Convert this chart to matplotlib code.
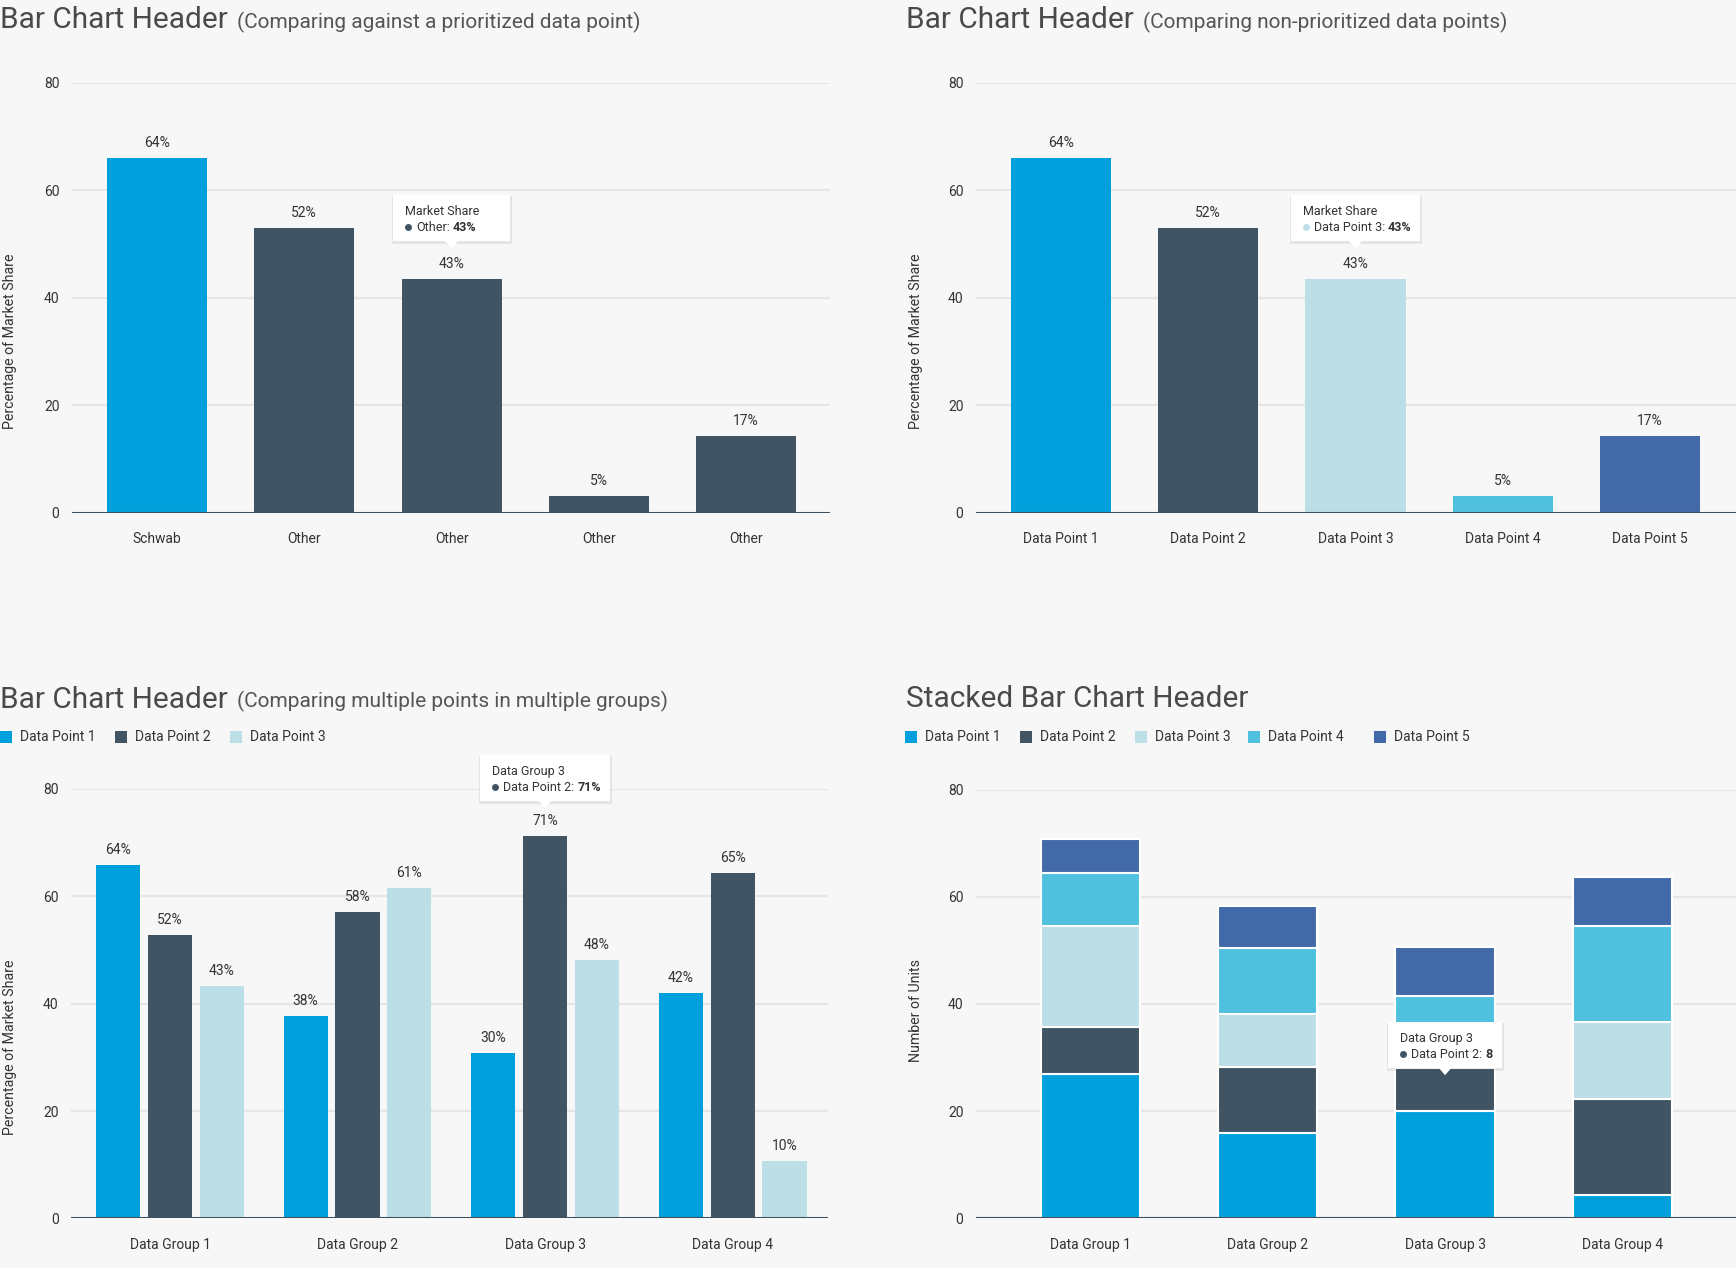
import matplotlib
matplotlib.use("Agg")
import matplotlib.pyplot as plt
from matplotlib.patches import Rectangle, Polygon
from matplotlib.lines import Line2D
import numpy as np

# ---------------- data ----------------
c1_categories = ["Schwab", "Other", "Other", "Other", "Other"]
c1_values = [66.0, 53.0, 43.4, 3.1, 14.3]
c1_labels = ["64%", "52%", "43%", "5%", "17%"]

c2_categories = ["Data Point 1", "Data Point 2", "Data Point 3", "Data Point 4", "Data Point 5"]
c2_values = [66.0, 53.0, 43.4, 3.1, 14.3]
c2_labels = ["64%", "52%", "43%", "5%", "17%"]

c3_groups = ["Data Group 1", "Data Group 2", "Data Group 3", "Data Group 4"]
c3_series = ["Data Point 1", "Data Point 2", "Data Point 3"]
c3_dp1 = [65.8, 37.7, 30.8, 42.0]
c3_dp2 = [52.8, 57.1, 71.2, 64.4]
c3_dp3 = [43.3, 61.6, 48.1, 10.7]
c3_lab_dp1 = ["64%", "38%", "30%", "42%"]
c3_lab_dp2 = ["52%", "58%", "71%", "65%"]
c3_lab_dp3 = ["43%", "61%", "48%", "10%"]

c4_groups = ["Data Group 1", "Data Group 2", "Data Group 3", "Data Group 4"]
c4_series = ["Data Point 1", "Data Point 2", "Data Point 3", "Data Point 4", "Data Point 5"]
c4_dp1 = [27.0, 16.0, 20.0, 4.4]
c4_dp2 = [8.7, 12.3, 8.0, 17.8]
c4_dp3 = [18.9, 9.9, 7.0, 14.5]
c4_dp4 = [9.9, 12.3, 6.5, 17.9]
c4_dp5 = [6.3, 7.8, 9.1, 9.0]

y_ticks = [0, 20, 40, 60, 80]

# ---------------- style ----------------
W, H = 1736, 1268
BG = "#f7f7f7"
GRID = "#e6e6e6"
BASE = "#3f4f5b"
TXT = "#333333"
C1 = "#00a0dd"
C2 = "#415464"
C3 = "#bcdee6"
C4 = "#4fc1df"
C5 = "#436aa8"

plt.rcParams['font.family'] = ['Roboto', 'DejaVu Sans']
fig = plt.figure(figsize=(W / 100, H / 100), dpi=100, facecolor=BG)
renderer = fig.canvas.get_renderer()


def fx(x):
    return x / W


def fy(y_top):
    return 1 - y_top / H


def make_axes(left, right, top, bottom, xlim):
    ax = fig.add_axes([left / W, 1 - bottom / H, (right - left) / W, (bottom - top) / H])
    ax.set_facecolor(BG)
    ax.set_xlim(*xlim)
    ax.set_ylim(0, 80)
    ax.set_yticks(y_ticks)
    for s in ax.spines.values():
        s.set_visible(False)
    ax.tick_params(axis='both', length=0, labelsize=10, labelcolor=TXT)
    ax.tick_params(axis='y', pad=9)
    ax.tick_params(axis='x', pad=14)
    for t in y_ticks[1:]:
        ax.axhline(t, color=GRID, lw=1.6, zorder=0)
    ax.axhline(0, color=BASE, lw=2.2, zorder=5)
    return ax


def value_labels(ax, xs, vals, labels):
    for x, v, l in zip(xs, vals, labels):
        ax.annotate(l, (x, v), xytext=(0, 8), textcoords='offset pixels',
                    ha='center', va='bottom', fontsize=10, color=TXT)


def title(x, y_base, main, sub=None):
    t = fig.text(fx(x), fy(y_base), main, fontsize=21.5, fontweight='normal',
                 color="#4a4a4a", va='baseline', ha='left')
    if sub:
        ext = t.get_window_extent(renderer)
        fig.text((ext.x1 + 9) / W, fy(y_base), sub, fontsize=15, fontweight='normal',
                 color="#555555", va='baseline', ha='left')


def ylabel(x, y_center, s):
    fig.text(fx(x), fy(y_center), s, rotation=90, ha='center', va='center',
             fontsize=10.2, color=TXT)


def tooltip(ax, xd, yd, dy, line1, label, value, dot_color, min_w=0):
    tx, ty = ax.transData.transform((xd, yd))
    ty = ty + dy
    box_h, tri_h, tri_w = 46, 7, 13
    bottom = ty + tri_h
    top = bottom + box_h
    kw = dict(fontsize=9, color=TXT, va='center', ha='left', zorder=20)
    t1 = fig.text(0, 0, line1, **kw)
    t2 = fig.text(0, 0, label + ":", **kw)
    t3 = fig.text(0, 0, value, fontweight='bold', **kw)
    w1 = t1.get_window_extent(renderer).width
    w2 = t2.get_window_extent(renderer).width
    w3 = t3.get_window_extent(renderer).width
    text_w = max(w1, 11 + w2 + 3 + w3)
    bw = max(min_w, 12 + text_w + 9)
    left = tx - bw / 2
    fig.add_artist(Rectangle(((left - 1) / W, (bottom - 2.5) / H), (bw + 3) / W, (box_h + 2) / H,
                             transform=fig.transFigure, facecolor='black', alpha=0.07,
                             edgecolor='none', zorder=18))
    fig.add_artist(Rectangle((left / W, bottom / H), bw / W, box_h / H,
                             transform=fig.transFigure, facecolor='white',
                             edgecolor='none', zorder=19))
    fig.add_artist(Polygon([((tx - tri_w / 2) / W, (bottom + 0.5) / H),
                            ((tx + tri_w / 2) / W, (bottom + 0.5) / H),
                            (tx / W, ty / H)], closed=True, transform=fig.transFigure,
                           facecolor='white', edgecolor='none', zorder=19))
    xl = left + 12
    t1.set_position((xl / W, (top - 16.5) / H))
    y2 = (top - 32) / H
    fig.add_artist(Line2D([(xl + 3) / W], [y2], transform=fig.transFigure, marker='o',
                          markersize=4, color=dot_color, linestyle='none', zorder=20))
    t2.set_position(((xl + 11) / W, y2))
    t3.set_position(((xl + 11 + w2 + 3) / W, y2))


def legend(items, y_center):
    for (mx, lab, col) in items:
        fig.add_artist(Rectangle((fx(mx), fy(y_center + 6)), 12 / W, 12 / H,
                                 transform=fig.transFigure, facecolor=col, edgecolor='none'))
        fig.text(fx(mx + 20), fy(y_center), lab, fontsize=10, color=TXT,
                 va='center', ha='left')


# ---------------- chart 1 ----------------
ax1 = make_axes(72, 830, 83, 512.5, (-0.577, 4.569))
x1 = np.arange(len(c1_categories))
ax1.bar(x1, c1_values, width=0.68, color=[C1, C2, C2, C2, C2], zorder=3)
ax1.set_xticks(x1)
ax1.set_xticklabels(c1_categories)
value_labels(ax1, x1, c1_values, c1_labels)
title(0, 28.5, "Bar Chart Header", "(Comparing against a prioritized data point)")
ylabel(10, 341, "Percentage of Market Share")

# ---------------- chart 2 ----------------
ax2 = make_axes(976, 1736, 83, 512.5, (-0.577, 4.583))
x2 = np.arange(len(c2_categories))
ax2.bar(x2, c2_values, width=0.68, color=[C1, C2, C3, C4, C5], zorder=3)
ax2.set_xticks(x2)
ax2.set_xticklabels(c2_categories)
value_labels(ax2, x2, c2_values, c2_labels)
title(906, 28.5, "Bar Chart Header", "(Comparing non-prioritized data points)")
ylabel(916, 341, "Percentage of Market Share")

# ---------------- chart 3 ----------------
ax3 = make_axes(71, 828, 789, 1218.4, (-0.528, 3.509))
x3 = np.arange(len(c3_groups))
off, bw3 = 0.277, 0.235
for k, (vals, labs, col) in enumerate([(c3_dp1, c3_lab_dp1, C1),
                                         (c3_dp2, c3_lab_dp2, C2),
                                         (c3_dp3, c3_lab_dp3, C3)]):
    xs = x3 + (k - 1) * off
    ax3.bar(xs, vals, width=bw3, color=col, zorder=3)
    value_labels(ax3, xs, vals, labs)
ax3.set_xticks(x3)
ax3.set_xticklabels(c3_groups)
title(0, 707.5, "Bar Chart Header", "(Comparing multiple points in multiple groups)")
legend([(0, c3_series[0], C1), (115, c3_series[1], C2), (230, c3_series[2], C3)], 737)
ylabel(10, 1047, "Percentage of Market Share")

# ---------------- chart 4 ----------------
ax4 = make_axes(976, 1736, 789.5, 1218.3, (-0.646, 3.641))
x4 = np.arange(len(c4_groups))
bottom = np.zeros(len(c4_groups))
for vals, col in zip([c4_dp1, c4_dp2, c4_dp3, c4_dp4, c4_dp5], [C1, C2, C3, C4, C5]):
    ax4.bar(x4, vals, bottom=bottom, width=0.56, color=col, edgecolor='white',
            linewidth=1.5, zorder=3)
    bottom = bottom + np.array(vals)
ax4.axhline(0, color=BASE, lw=2.2, zorder=6)
ax4.set_xticks(x4)
ax4.set_xticklabels(c4_groups)
title(906, 707, "Stacked Bar Chart Header")
legend([(905, c4_series[0], C1), (1020, c4_series[1], C2), (1135, c4_series[2], C3),
        (1248, c4_series[3], C4), (1374, c4_series[4], C5)], 737)
ylabel(916, 1011, "Number of Units")

# ---------------- tooltips ----------------
fig.canvas.draw()
tooltip(ax1, x1[2], c1_values[2], 31, "Market Share", "Other", c1_labels[2], C2, min_w=117)
tooltip(ax2, x2[2], c2_values[2], 31, "Market Share", "Data Point 3", c2_labels[2], C3)
tooltip(ax3, x3[2], c3_dp2[2], 28, "Data Group 3", "Data Point 2", c3_lab_dp2[2], C2)
tooltip(ax4, x4[2], c4_dp1[2] + c4_dp2[2], -1.3 * 429 / 80, "Data Group 3", "Data Point 2",
        "8", C2)

fig.savefig("out.png", dpi=100, facecolor=BG)
